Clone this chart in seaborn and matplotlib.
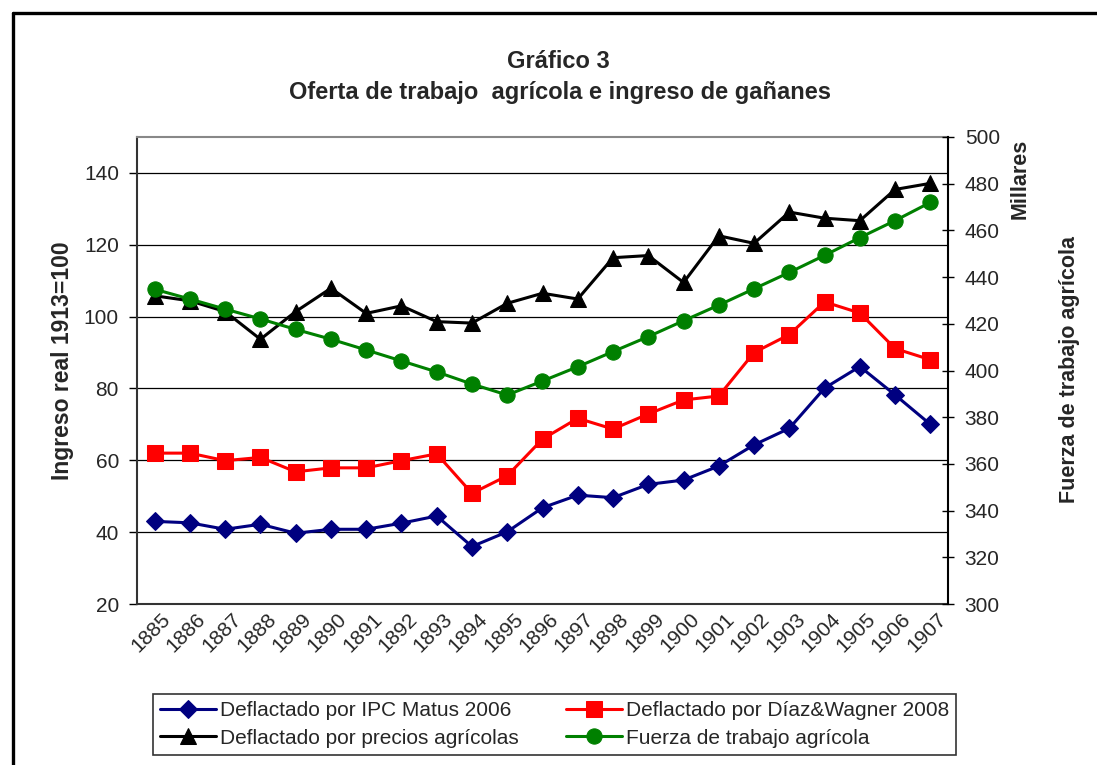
import pandas as pd
import matplotlib
matplotlib.use('Agg')
import matplotlib.pyplot as plt
import matplotlib.transforms as mtransforms
from matplotlib.lines import Line2D
import seaborn as sns

sns.set_style('white')
plt.rcParams['font.family'] = ['Liberation Sans', 'DejaVu Sans']

years = [str(y) for y in range(1885, 1908)]
ipc_matus = [43.0, 42.6, 40.8, 42.2, 39.7, 40.8, 40.8, 42.5, 44.5, 36.0, 40.1, 46.8,
             50.3, 49.6, 53.3, 54.5, 58.4, 64.3, 68.9, 80.1, 86.1, 78.2, 70.0]
diaz_wagner = [62.0, 62.0, 59.9, 60.8, 56.8, 57.9, 57.9, 59.9, 61.8, 50.8, 55.7, 65.9,
               71.7, 68.7, 72.9, 76.8, 77.9, 90.0, 95.0, 104.1, 101.0, 91.1, 88.0]
precios_agr = [105.8, 104.4, 101.4, 93.7, 101.4, 107.9, 100.9, 103.0, 98.6, 98.2, 103.7, 106.5,
               104.9, 116.4, 117.0, 109.5, 122.5, 120.4, 129.1, 127.4, 126.7, 135.4, 137.1]
fuerza = [434.8, 430.6, 426.3, 422.1, 417.6, 413.4, 408.8, 404.1, 399.4, 394.2, 389.5, 395.5,
          401.6, 408.1, 414.5, 421.3, 428.0, 435.0, 442.0, 449.3, 456.9, 464.2, 472.0]

labels = ['Deflactado por IPC Matus 2006', 'Deflactado por Díaz&Wagner 2008',
          'Deflactado por precios agrícolas', 'Fuerza de trabajo agrícola']

df = pd.DataFrame({'x': range(len(years)), 'ipc': ipc_matus, 'dw': diaz_wagner,
                   'agr': precios_agr, 'fuerza': fuerza})

fig = plt.figure(figsize=(10.97, 7.65), dpi=100)
ax = fig.add_axes([137 / 1097, 1 - 604 / 765, 811 / 1097, 467 / 765])
ax2 = ax.twinx()

lw = 2.2
sns.lineplot(data=df, x='x', y='ipc', ax=ax, color='#000080', marker='D', markersize=9,
             markeredgecolor='#000080', linewidth=lw, zorder=4)
sns.lineplot(data=df, x='x', y='dw', ax=ax, color='#FF0000', marker='s', markersize=11,
             markeredgecolor='#FF0000', linewidth=lw, zorder=4)
sns.lineplot(data=df, x='x', y='agr', ax=ax, color='black', marker='^', markersize=12,
             markeredgecolor='black', linewidth=lw, zorder=4)
sns.lineplot(data=df, x='x', y='fuerza', ax=ax2, color='#008000', marker='o', markersize=11,
             markeredgecolor='#008000', linewidth=lw, zorder=4)

fs = 15
ax.set_ylim(20, 150)
ax.set_yticks(range(20, 141, 20))
ax2.set_ylim(300, 500)
ax2.set_yticks(range(300, 501, 20))
ax.set_xlim(-0.5, len(years) - 0.5)
ax.set_xticks(range(len(years)))
ax.set_xticklabels(years, rotation=45, ha='right', rotation_mode='anchor', fontsize=fs)
ax.set_xticks([i - 0.5 for i in range(len(years) + 1)], minor=True)
ax.tick_params(axis='x', which='major', length=0, pad=4)
ax.tick_params(axis='x', which='minor', length=5, width=1, direction='out', color='black')
ax.tick_params(axis='y', length=6, width=1, direction='out', labelsize=fs, pad=7, color='black')
ax2.tick_params(axis='y', length=8, width=1, direction='inout', labelsize=fs, pad=8, color='black')
shift = mtransforms.ScaledTranslation(0.06, 0, fig.dpi_scale_trans)
for t in ax.get_xticklabels():
    t.set_transform(t.get_transform() + shift)

ax.grid(axis='y', color='black', linewidth=0.9)
ax.grid(axis='x', visible=False)
ax.set_axisbelow(True)
ax2.grid(False)

for sp in ['left', 'bottom']:
    ax.spines[sp].set_color('#333333')
    ax.spines[sp].set_linewidth(1.5)
ax.spines['top'].set_color('#888888')
ax.spines['top'].set_linewidth(1.5)
ax.spines['right'].set_visible(False)
ax2.spines['right'].set_color('black')
ax2.spines['right'].set_linewidth(1.5)
for sp in ['left', 'top', 'bottom']:
    ax2.spines[sp].set_visible(False)

ax.set_xlabel('')
ax.set_ylabel('')
ax2.set_ylabel('')
fig.text(62 / 1097, 1 - 361 / 765, 'Ingreso real 1913=100', rotation=90, ha='center',
         va='center', fontsize=16.5, fontweight='bold')
fig.text(1020 / 1097, 1 - 179 / 765, 'Millares', rotation=90, ha='center', va='center',
         fontsize=15.5, fontweight='bold')
fig.text(1070 / 1097, 1 - 369 / 765, 'Fuerza de trabajo agrícola', rotation=90,
         ha='center', va='center', fontsize=15.5, fontweight='bold')

fig.text(558 / 1097, 1 - 62 / 765, 'Gráfico 3', ha='center', va='center',
         fontsize=17, fontweight='bold')
fig.text(560 / 1097, 1 - 93 / 765, 'Oferta de trabajo  agrícola e ingreso de gañanes',
         ha='center', va='center', fontsize=17, fontweight='bold')

handles = ax.get_lines()[:3] + ax2.get_lines()[:1]
order = [0, 2, 1, 3]
leg = fig.legend([handles[i] for i in order], [labels[i] for i in order], ncol=2,
                 loc='upper left', bbox_to_anchor=(153 / 1097, 1 - 694 / 765),
                 fontsize=fs, frameon=True, fancybox=False, edgecolor='black',
                 handlelength=2.65, handletextpad=0.2, columnspacing=2.3,
                 borderpad=0.35, labelspacing=0.4, borderaxespad=0)
leg.get_frame().set_linewidth(1.2)

# chart frame (thick left and top border)
fig.add_artist(Line2D([12.5 / 1097, 12.5 / 1097], [0, 1 - 12.5 / 765], color='black',
                      linewidth=2.4, transform=fig.transFigure))
fig.add_artist(Line2D([12.5 / 1097, 1], [1 - 12.5 / 765, 1 - 12.5 / 765], color='black',
                      linewidth=2.4, transform=fig.transFigure))

fig.savefig('out.png', dpi=100, facecolor='white')
